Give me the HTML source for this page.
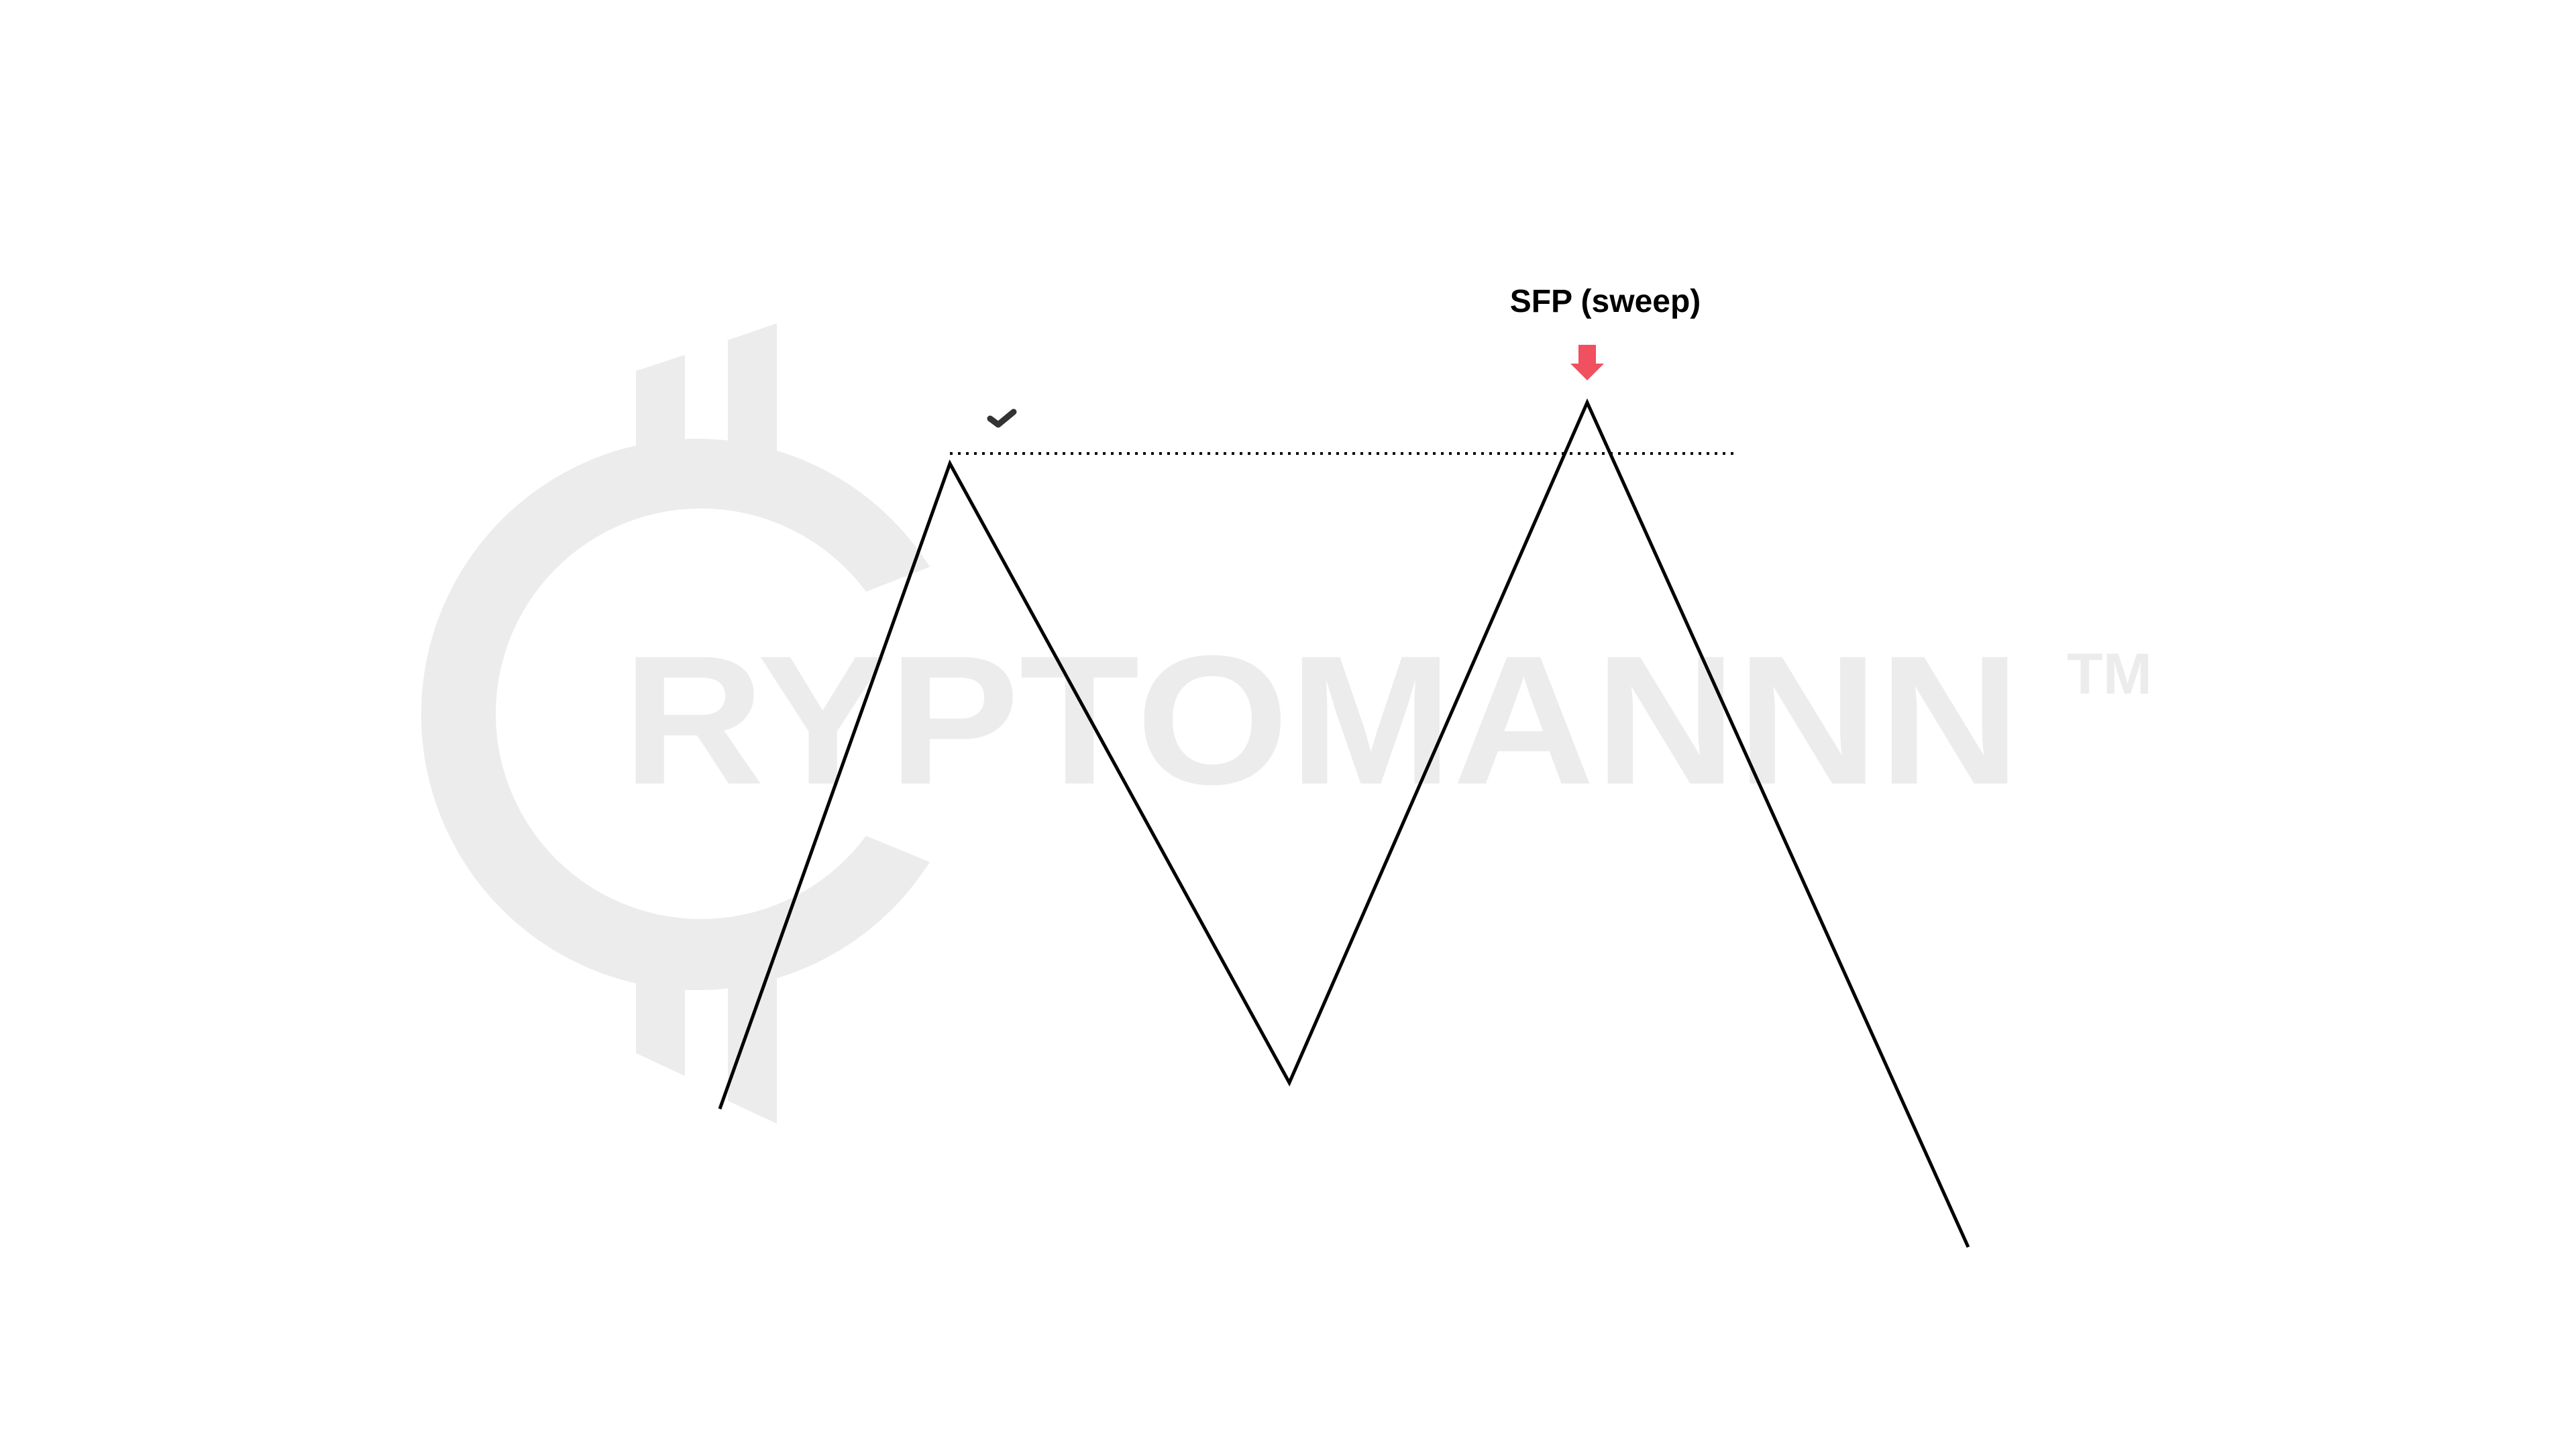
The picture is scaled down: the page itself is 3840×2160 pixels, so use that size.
<!DOCTYPE html>
<html><head><meta charset="utf-8"><style>
html,body{margin:0;padding:0;background:#fff;}
svg{display:block;}
</style></head><body>
<svg id="chart" width="3840" height="2160" viewBox="0 0 3840 2160" xmlns="http://www.w3.org/2000/svg">
  <g id="watermark" fill="#ececec">
    <path d="M1386,845 A411,411 0 1 0 1386,1285 L1291,1246 A306,306 0 1 1 1291,882 Z"/>
    <polygon points="948,553 1021,529 1021,668 948,680"/>
    <polygon points="1085,507 1158,482 1158,680 1085,666"/>
    <polygon points="948,1450 1021,1470 1021,1604 948,1570"/>
    <polygon points="1085,1470 1158,1450 1158,1675 1085,1641"/>
    <text x="928" y="1168" font-family="Liberation Sans, sans-serif" font-weight="bold" font-size="274" textLength="2084" lengthAdjust="spacingAndGlyphs">RYPTOMANNN</text>
    <text x="3081" y="1034" font-family="Liberation Sans, sans-serif" font-weight="bold" font-size="86" textLength="127" lengthAdjust="spacingAndGlyphs">TM</text>
  </g>
  <g id="plot"></g>
  <text x="2393" y="465" text-anchor="middle" font-family="Liberation Sans, sans-serif" font-weight="bold" font-size="48" fill="#000">SFP (sweep)</text>
</svg>
<script>
const times = [0, 3.43, 8.49, 12.93, 18.61];
const prices = [34.7, 130.9, 38.6, 140.0, 14.1];
const levelPrice = [132.4];
const levelRange = [3.43, 15.11];
const sweepIndex = [3];
const checkIndex = [1];

function xScale(t){ return 1073 + t * 100; }
function yScale(p){ return 2000 - p * 10; }

const NS = 'http://www.w3.org/2000/svg';
const plot = document.getElementById('plot');

const lvl = document.createElementNS(NS, 'line');


lvl.setAttribute('x1', xScale(levelRange[0]));
lvl.setAttribute('x2', xScale(levelRange[1]));
lvl.setAttribute('y1', yScale(levelPrice[0]));
lvl.setAttribute('y2', yScale(levelPrice[0]));
lvl.setAttribute('stroke', '#000');
lvl.setAttribute('stroke-width', '4');
lvl.setAttribute('stroke-dasharray', '4 8');
plot.appendChild(lvl);

const pl = document.createElementNS(NS, 'polyline');


pl.setAttribute('points', times.map((t, i) => xScale(t) + ',' + yScale(prices[i])).join(' '));
pl.setAttribute('fill', 'none');
pl.setAttribute('stroke', '#000');
pl.setAttribute('stroke-width', '5');
pl.setAttribute('stroke-linejoin', 'miter');
plot.appendChild(pl);

const sx = xScale(times[sweepIndex[0]]);
const sy = yScale(prices[sweepIndex[0]]);
const arrow = document.createElementNS(NS, 'polygon');


const arrowTop = sy - 86;
arrow.setAttribute('points', [
  [sx - 13, arrowTop], [sx + 13, arrowTop], [sx + 13, arrowTop + 28], [sx + 25, arrowTop + 28],
  [sx, arrowTop + 53], [sx - 25, arrowTop + 28], [sx - 13, arrowTop + 28]
].map(p => p.join(',')).join(' '));
arrow.setAttribute('fill', '#f0505f');
plot.appendChild(arrow);

const ckx = xScale(times[checkIndex[0]]) + 78;
const cky = yScale(prices[checkIndex[0]]) - 67;
const chk = document.createElementNS(NS, 'polyline');


chk.setAttribute('points', (ckx - 18) + ',' + (cky) + ' ' + (ckx - 6) + ',' + (cky + 9) + ' ' + (ckx + 17) + ',' + (cky - 10));
chk.setAttribute('fill', 'none');
chk.setAttribute('stroke', '#333');
chk.setAttribute('stroke-width', '9');
chk.setAttribute('stroke-linecap', 'round');
chk.setAttribute('stroke-linejoin', 'round');
plot.appendChild(chk);
</script>
</body></html>
